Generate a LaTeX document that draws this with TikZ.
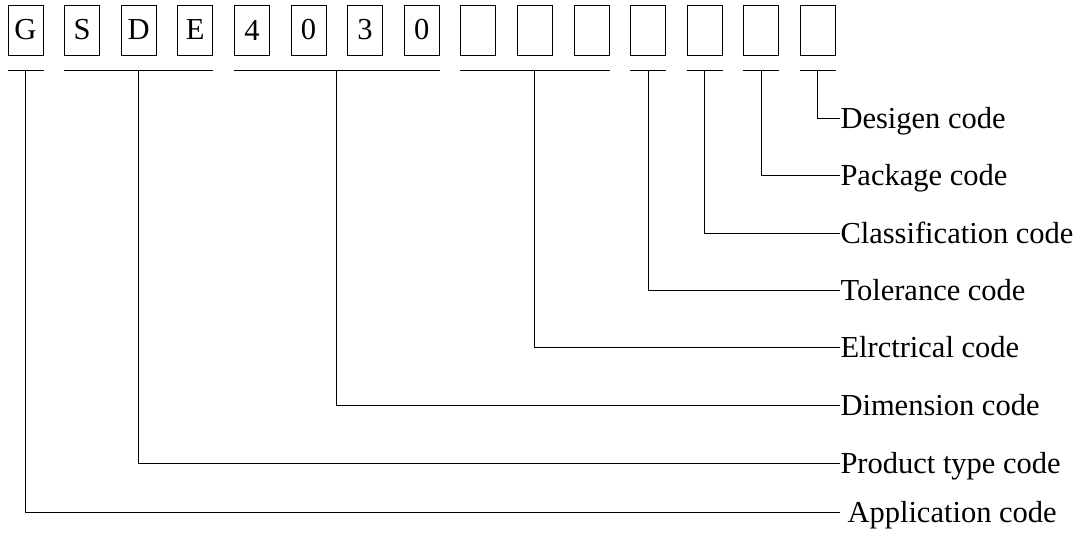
\documentclass[tikz,border=0pt]{standalone}
\usepackage{fontspec}
\setmainfont{Liberation Serif}
\usetikzlibrary{calc}
\begin{document}
\begin{tikzpicture}[x=1pt, y=-1pt, line width=1pt,
    cell/.style={draw, minimum width=35pt, minimum height=50pt, inner sep=0pt,
      font=\fontsize{30.5}{36}\selectfont},
    lbl/.style={anchor=west, inner sep=0pt, text height=20pt, text depth=0pt,
      font=\fontsize{30.5}{36}\selectfont}]
  \useasboundingbox (0,0) rectangle (1085,533);
  % code cells
  \foreach \c [count=\i] in {G,S,D,E,4,0,3,0,{},{},{},{},{},{},{}}
    \node[cell] (b\i) at ({25.5+56.6*(\i-1)},30) {\c};
  % group bars
  \foreach \a/\b/\n in {1/1/1, 2/4/2, 5/8/3, 9/11/4, 12/12/5, 13/13/6, 14/14/7, 15/15/8} {
    \draw ($(b\a.south west)+(0,15)$) -- ($(b\b.south east)+(0,15)$);
    \coordinate (m\n) at ($(b\a.south west)!0.5!(b\b.south east)+(0,15)$);
  }
  % labels
  \node[lbl] (l8) at (840,118) {Desigen code};
  \node[lbl] (l7) at (840,175) {Package code};
  \node[lbl] (l6) at (840,233) {Classification code};
  \node[lbl] (l5) at (840,290) {Tolerance code};
  \node[lbl] (l4) at (840,347) {Elrctrical code};
  \node[lbl] (l3) at (840,405) {Dimension code};
  \node[lbl] (l2) at (840,463) {Product type code};
  \node[lbl, inner xsep=0pt] (l1) at (840,512) {\hspace{7pt}Application code};
  \foreach \n in {1,...,8}
    \draw (m\n) |- (l\n.west);
\end{tikzpicture}
\end{document}
